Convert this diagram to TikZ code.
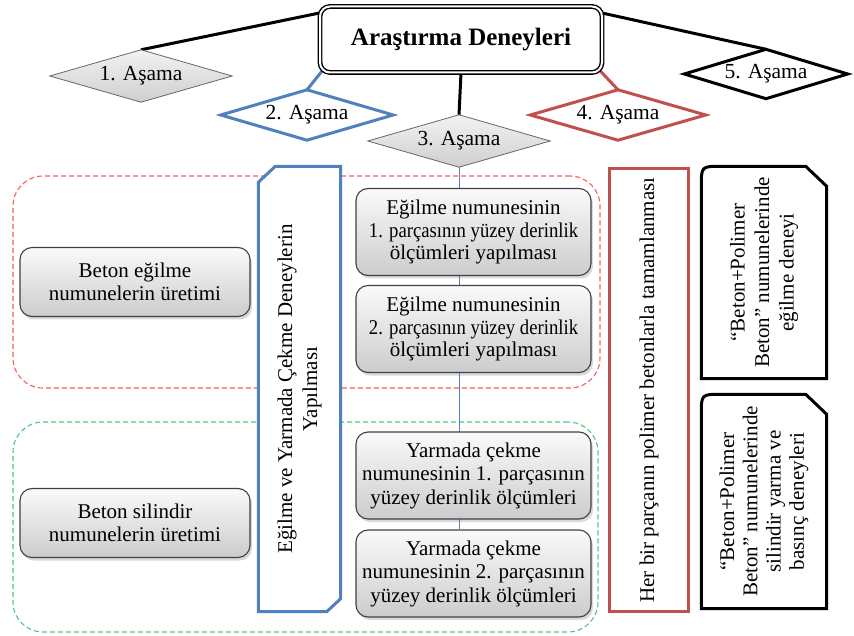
\documentclass[tikz,border=0pt]{standalone}
\usepackage{graphicx}
\usepackage{fontspec}
\setmainfont{Liberation Serif}
\usetikzlibrary{shapes.geometric,shadows,calc,backgrounds}
\definecolor{oblue}{HTML}{4F81BD}
\definecolor{ored}{HTML}{C0504D}
\definecolor{dred}{HTML}{FF5B5B}
\definecolor{dgreen}{HTML}{4CC97A}
% #1 name, #2 position, #3 width, #4 height, #5 draw style, #6 text
\newcommand\mydiamond[6]{%
  \node[minimum width=#3pt, minimum height=#4pt, inner sep=0pt] (#1) at #2 {};
  \draw[#5] (#1.north) -- (#1.east) -- (#1.south) -- (#1.west) -- cycle;
  \node[dialabel] (#1txt) at (#1.center) {#6};
}
\begin{document}
\begin{tikzpicture}[x=1pt,y=-1pt,
  txt/.style={font=\fontsize{21}{23.5}\selectfont, align=center},
  graybox/.style={txt, draw=black!75, line width=1.1pt, rounded corners=12pt,
    top color=gray!4, bottom color=gray!40, inner sep=0pt,
    drop shadow={shadow xshift=2pt,shadow yshift=-3pt,opacity=0.3}},
  dialabel/.style={inner sep=0pt, font=\fontsize{21.5}{24}\selectfont},
  diagray/.style={draw=black!60, line width=0.8pt, top color=gray!10, bottom color=gray!38},
  diathick/.style={line width=3pt, fill=white, line join=miter, miter limit=20},
  grp/.style={dashed, dash pattern=on 5pt off 3pt, line width=1.1pt, rounded corners=30pt, inner sep=0pt},
  conn/.style={line width=3pt},
  rottxt/.style={font=\fontsize{21}{24.5}\selectfont, align=center, rotate=90},
  blackbox/.style={draw=black, line width=3pt, fill=white}
]
\useasboundingbox (0,0) rectangle (854,636);

% title
\node[draw, line width=1.4pt, double=white, double distance=2pt, rounded corners=10pt, fill=white,
  minimum width=282pt, minimum height=66pt, font=\bfseries\fontsize{25}{28}\selectfont] (title) at (461,39.5) {Araştırma Deneyleri};

% diamonds
\mydiamond{d1}{(141,76)}{182}{52}{diagray}{1. Aşama}
\mydiamond{d2}{(307,115)}{172}{50}{diathick, draw=oblue}{2. Aşama}
\mydiamond{d3}{(459,141)}{182}{52}{diagray}{3. Aşama}
\mydiamond{d4}{(618,115)}{175}{50}{diathick, draw=ored}{4. Aşama}
\mydiamond{d5}{(766,74)}{163}{49}{diathick, draw=black}{5. Aşama}

% left boxes
\node[graybox, minimum width=230pt, minimum height=69pt] (L1) at (135,282) {Beton eğilme\\numunelerin üretimi};
\node[graybox, minimum width=230pt, minimum height=69pt] (L2) at (135,523) {Beton silindir\\numunelerin üretimi};

% middle boxes
\node[graybox, minimum width=235pt, minimum height=87pt, font=\fontsize{21}{22.5}\selectfont] (mA) at (473.5,232)
  {Eğilme numunesinin\\\scalebox{0.89}[1]{1. parçasının yüzey derinlik}\\ölçümleri yapılması};
\node[graybox, minimum width=235pt, minimum height=87pt, font=\fontsize{21}{22.5}\selectfont] (mB) at (473.5,329)
  {Eğilme numunesinin\\\scalebox{0.89}[1]{2. parçasının yüzey derinlik}\\ölçümleri yapılması};
\node[graybox, minimum width=235pt, minimum height=87pt] (mC) at (473.5,475.5)
  {Yarmada çekme\\numunesinin 1. parçasının\\yüzey derinlik ölçümleri};
\node[graybox, minimum width=235pt, minimum height=87pt] (mD) at (473.5,573.5)
  {Yarmada çekme\\numunesinin 2. parçasının\\yüzey derinlik ölçümleri};

% blue vertical box
\node[minimum width=82pt, minimum height=445pt, inner sep=0pt] (B) at (299.5,389) {};
\draw[oblue, line width=3pt, fill=white] ($(B.north west)+(0,16)$) -- ($(B.north west)+(17,0)$) -- (B.north east)
  -- ($(B.south east)+(0,-13)$) -- ($(B.south east)+(-14,0)$) -- (B.south west) -- cycle;
\node[rottxt, font=\fontsize{21}{25}\selectfont] (Btxt) at (B.center) {Eğilme ve Yarmada Çekme Deneylerin\\Yapılması};

% red vertical box
\node[draw=ored, line width=3pt, fill=white, rotate=90, minimum width=443pt, minimum height=79pt, inner sep=0pt,
  font=\fontsize{21}{24}\selectfont] (R) at (649,390) {Her bir parçanın polimer betonlarla tamamlanması};

% black boxes
\node[minimum width=125pt, minimum height=212pt, inner sep=0pt] (E) at (764,272.5) {};
\draw[blackbox] (E.south west) -- ($(E.north west)+(0,20)$) .. controls (E.north west) .. ($(E.north west)+(20,0)$)
  -- ($(E.north east)+(-21,0)$) -- ($(E.north east)+(0,20)$) -- (E.south east) -- cycle;
\node[rottxt] (Etxt) at (E.center) {“Beton+Polimer\\Beton” numunelerinde\\eğilme deneyi};

\node[minimum width=125pt, minimum height=214pt, inner sep=0pt] (F) at (764,501.5) {};
\draw[blackbox] (F.south west) -- ($(F.north west)+(0,20)$) .. controls (F.north west) .. ($(F.north west)+(20,0)$)
  -- ($(F.north east)+(-21,0)$) -- ($(F.north east)+(0,20)$) -- (F.south east) -- cycle;
\node[rottxt, font=\fontsize{21}{23.3}\selectfont] (Ftxt) at (F.center) {“Beton+Polimer\\Beton” numunelerinde\\silindir yarma ve\\basınç deneyleri};

% background: groups and connectors
\begin{scope}[on background layer]
  \node[grp, draw=dred, minimum width=587pt, minimum height=212pt] (gA) at (306.5,282) {};
  \node[grp, draw=dgreen, minimum width=585pt, minimum height=210pt] (gB) at (305.5,527) {};
  \draw[oblue, line width=1pt] (d3.south) -- (d3.south |- mD.north);
  \draw[conn] ($(title.north west)+(6,6)$) -- (d1.north);
  \draw[conn] ($(title.north east)+(-6,6)$) -- (d5.north);
  \draw[conn] (title.south) -- (d3.north);
  \draw[conn, oblue] ($(title.south west)+(5,-5)$) -- (d2.north);
  \draw[conn, ored] ($(title.south east)+(-5,-5)$) -- (d4.north);
\end{scope}
\end{tikzpicture}
\end{document}
